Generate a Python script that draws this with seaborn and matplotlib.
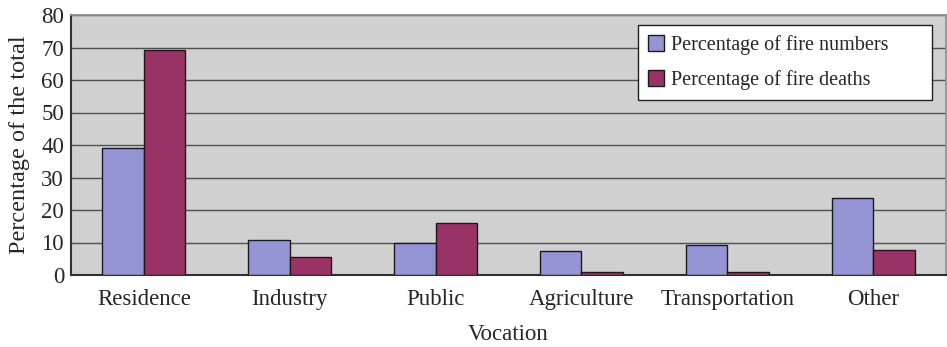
import matplotlib
matplotlib.use("Agg")
import matplotlib.pyplot as plt
import seaborn as sns
import pandas as pd

categories = ["Residence", "Industry", "Public", "Agriculture", "Transportation", "Other"]
fire_numbers = [39.0, 10.7, 10.0, 7.3, 9.1, 23.6]
fire_deaths = [69.3, 5.4, 16.0, 1.0, 1.0, 7.8]
series_names = ["Percentage of fire numbers", "Percentage of fire deaths"]
yticks = [0, 10, 20, 30, 40, 50, 60, 70, 80]

df = pd.DataFrame({
    "Vocation": categories * 2,
    "value": fire_numbers + fire_deaths,
    "series": [series_names[0]] * len(categories) + [series_names[1]] * len(categories),
})

sns.set_theme(style="white")
plt.rcParams["font.family"] = ["Liberation Serif", "DejaVu Serif"]

fig = plt.figure(figsize=(9.47, 3.47), dpi=100)
ax = fig.add_axes([71 / 947, 1 - 275 / 347, 875 / 947, 260 / 347])
ax.set_facecolor("#D0D0D0")

sns.barplot(data=df, x="Vocation", y="value", hue="series", hue_order=series_names,
            palette=["#9595D6", "#993366"], width=0.57, gap=0, edgecolor="#1a1a1a",
            linewidth=1.0, saturation=1, ax=ax, zorder=3)

ax.set_ylim(0, 80)
ax.set_xlim(-0.5, len(categories) - 0.5)
ax.set_yticks(yticks)
ax.set_yticklabels([str(t) for t in yticks], fontsize=16.5)
for y in yticks[1:]:
    ax.axhline(y, color="#505050", linewidth=1.0, zorder=1)
ax.set_xticks([i + 0.5 for i in range(len(categories) - 1)], minor=True)
ax.tick_params(axis="x", which="minor", direction="in", length=8, color="#303030", width=1.3)
ax.tick_params(axis="x", which="major", length=0, labelsize=16.5, pad=10)
ax.tick_params(axis="y", which="major", direction="in", length=8, width=1.5, color="#303030", pad=5)
ax.set_ylabel("Percentage of the total", fontsize=17.5, labelpad=8)
ax.set_xlabel("Vocation", fontsize=16.5, labelpad=10)

for side in ["left", "bottom"]:
    ax.spines[side].set_color("#303030")
    ax.spines[side].set_linewidth(1.5)
ax.spines["top"].set_color("#909090")
ax.spines["right"].set_color("#909090")

leg = ax.legend(loc="upper left",
                bbox_to_anchor=((638 - 71) / 875, 1 - 10 / 260, (932 - 638) / 875, 0),
                mode="expand",
                fontsize=14.5, frameon=True, fancybox=False, edgecolor="#202020",
                framealpha=1, handlelength=0.8, handleheight=0.8, handletextpad=0.35,
                labelspacing=0.75, borderpad=0.5, borderaxespad=0)
leg.get_frame().set_linewidth(1.0)

fig.savefig("out.png", dpi=100)
